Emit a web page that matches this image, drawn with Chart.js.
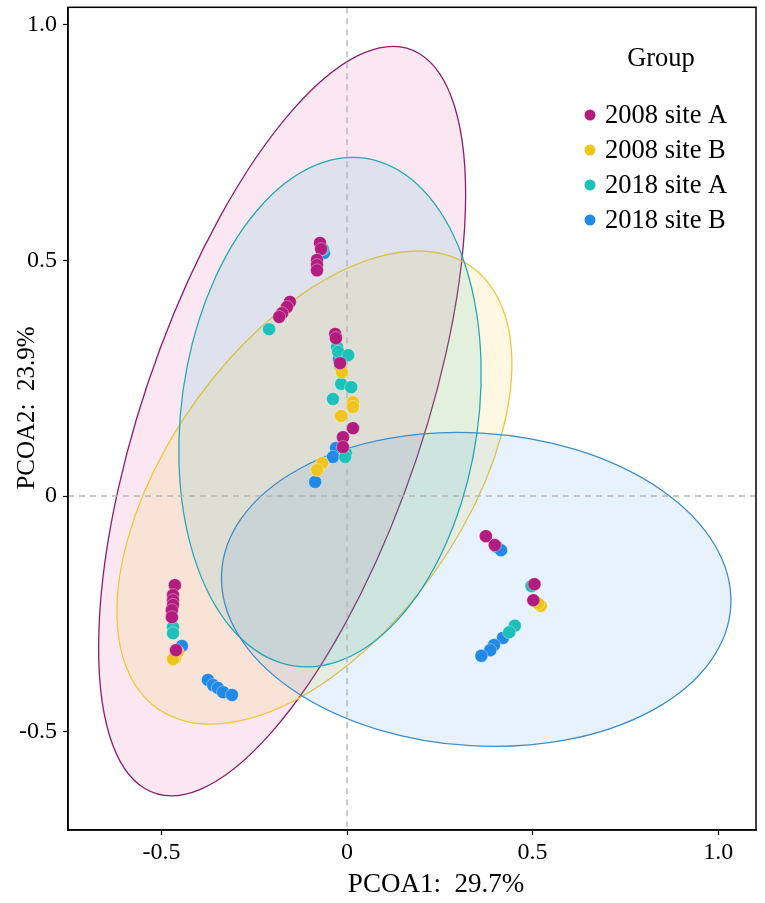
<!DOCTYPE html>
<html>
<head>
<meta charset="utf-8">
<script src="https://cdn.jsdelivr.net/npm/chart.js@4/dist/chart.umd.min.js"></script>
<style>
  html, body { margin: 0; padding: 0; background: #fff; }
  #wrap { width: 765px; height: 903px; }
</style>
</head>
<body>
<div id="wrap"><canvas id="pcoa"></canvas></div>
<script>
// groups and colours
const groups = ["2008 site A", "2008 site B", "2018 site A", "2018 site B"];
const pointColors = ["#B21C7E", "#EFC51C", "#1FBFBA", "#2389E6"];
const lineColors = ["#8B1E6E", "#EEC73A", "#25A9B6", "#3D8DCB"];
const fillColors = ["rgba(215,60,150,0.12)", "rgba(245,200,20,0.12)", "rgba(30,185,200,0.12)", "rgba(40,140,230,0.11)"];

// sample scores (PCOA1, PCOA2)
const siteA2008X = [-0.073, -0.070, -0.081, -0.081, -0.081, -0.154, -0.162, -0.175, -0.183, -0.032, -0.030, -0.019, 0.016, -0.011, -0.011, -0.464, -0.469, -0.469, -0.469, -0.472, -0.472, -0.461, 0.374, 0.398, 0.505, 0.502];
const siteA2008Y = [0.537, 0.524, 0.501, 0.490, 0.479, 0.412, 0.401, 0.388, 0.380, 0.344, 0.335, 0.282, 0.144, 0.125, 0.104, -0.189, -0.210, -0.221, -0.231, -0.242, -0.257, -0.327, -0.085, -0.104, -0.187, -0.221];
const siteB2008X = [-0.167, -0.016, -0.014, 0.016, 0.016, -0.016, -0.067, -0.081, -0.456, -0.464, -0.469, 0.522, 0.515];
const siteB2008Y = [0.397, 0.272, 0.263, 0.199, 0.189, 0.170, 0.070, 0.055, -0.331, -0.344, -0.346, -0.233, -0.228];
const siteA2018X = [-0.065, -0.210, -0.027, -0.024, 0.003, -0.019, -0.016, 0.011, -0.038, -0.003, -0.005, -0.469, -0.469, 0.497, 0.452, 0.437];
const siteA2018Y = [0.524, 0.354, 0.316, 0.306, 0.299, 0.274, 0.238, 0.231, 0.206, 0.091, 0.083, -0.278, -0.291, -0.191, -0.275, -0.289];
const siteB2018X = [-0.062, -0.022, -0.030, -0.038, -0.086, -0.445, -0.375, -0.361, -0.348, -0.334, -0.310, 0.404, 0.415, 0.420, 0.396, 0.386, 0.362];
const siteB2018Y = [0.516, 0.291, 0.102, 0.083, 0.030, -0.318, -0.390, -0.401, -0.407, -0.416, -0.422, -0.108, -0.115, -0.301, -0.316, -0.327, -0.339];

// confidence ellipses in data units (centre, semi axes, rotation in degrees)
const ellipseCx = [-0.175, -0.088, -0.046, 0.348];
const ellipseCy = [0.159, 0.018, 0.178, -0.198];
const ellipseA = [0.863, 0.639, 0.548, 0.687];
const ellipseB = [0.363, 0.356, 0.397, 0.332];
const ellipseAngle = [64.6, 41.8, 76.0, -2.6];

// axes
const xTicks = [-0.5, 0, 0.5, 1.0];
const xTickLabels = ["-0.5", "0", "0.5", "1.0"];
const yTicks = [-0.5, 0, 0.5, 1.0];
const yTickLabels = ["-0.5", "0", "0.5", "1.0"];
const xTitle = "PCOA1:  29.7%";
const yTitle = "PCOA2:  23.9%";
const legendTitle = "Group";

const FONT = "'Liberation Serif', 'Times New Roman', serif";

function toPoints(xs, ys) {
  return xs.map((x, i) => ({ x: x, y: ys[i] }));
}
const allX = [siteA2008X, siteB2008X, siteA2018X, siteB2018X];
const allY = [siteA2008Y, siteB2008Y, siteA2018Y, siteB2018Y];

//! ellipses + zero lines under the points
const ellipsePlugin = {
  id: "ellipses",
  beforeDatasetsDraw(chart) {
    const ctx = chart.ctx;
    const xs = chart.scales.x, ys = chart.scales.y;
    const area = chart.chartArea;
    const kx = xs.getPixelForValue(1) - xs.getPixelForValue(0);
    const ky = ys.getPixelForValue(0) - ys.getPixelForValue(1);
    ctx.save();
    ctx.beginPath();
    ctx.rect(area.left, area.top, area.right - area.left, area.bottom - area.top);
    ctx.clip();
    for (let i = 0; i < groups.length; i++) {
      ctx.save();
      ctx.translate(xs.getPixelForValue(ellipseCx[i]), ys.getPixelForValue(ellipseCy[i]));
      ctx.scale(kx, -ky);
      ctx.beginPath();
      ctx.ellipse(0, 0, ellipseA[i], ellipseB[i], ellipseAngle[i] * Math.PI / 180, 0, Math.PI * 2);
      ctx.restore();
      ctx.fillStyle = fillColors[i];
      ctx.fill();
      ctx.strokeStyle = lineColors[i];
      ctx.lineWidth = 1.3;
      ctx.stroke();
    }
    // dashed zero lines
    ctx.setLineDash([6, 5]);
    ctx.strokeStyle = "#b5b5b5";
    ctx.lineWidth = 1.4;
    const x0 = xs.getPixelForValue(0), y0 = ys.getPixelForValue(0);
    ctx.beginPath();
    ctx.moveTo(x0, area.top); ctx.lineTo(x0, area.bottom);
    ctx.moveTo(area.left, y0); ctx.lineTo(area.right, y0);
    ctx.stroke();
    ctx.restore();
  },
  afterDraw(chart) {
    const ctx = chart.ctx;
    const area = chart.chartArea;
    ctx.save();
    // panel box
    ctx.strokeStyle = "#000";
    ctx.lineWidth = 1.5;
    ctx.strokeRect(area.left, area.top, area.right - area.left, area.bottom - area.top);
    // axis titles
    ctx.fillStyle = "#000";
    ctx.textAlign = "center";
    ctx.textBaseline = "middle";
    ctx.font = "27px " + FONT;
    ctx.fillText(xTitle, 436, 885);
    ctx.font = "25px " + FONT;
    ctx.save();
    ctx.translate(27, 408);
    ctx.rotate(-Math.PI / 2);
    ctx.fillText(yTitle, 0, 0);
    ctx.restore();
    // legend
    ctx.font = "26.5px " + FONT;
    ctx.textBaseline = "alphabetic";
    ctx.fillText(legendTitle, 661, 66);
    ctx.textAlign = "left";
    chart.data.datasets.forEach((ds, i) => {
      const yb = 123 + i * 35;
      ctx.beginPath();
      ctx.arc(590, yb - 8, 5.5, 0, Math.PI * 2);
      ctx.fillStyle = ds.backgroundColor;
      ctx.fill();
      ctx.fillStyle = "#000";
      ctx.fillText(ds.label, 605, yb);
    });
    ctx.restore();
  }
};

new Chart(document.getElementById("pcoa"), {
  type: "scatter",
  data: {
    datasets: groups.map((g, i) => ({
      label: g,
      data: toPoints(allX[i], allY[i]),
      backgroundColor: pointColors[i],
      borderColor: "rgba(255,255,255,0.45)",
      borderWidth: 0.8,
      pointRadius: 6.5,
      pointHoverRadius: 6.5
    }))
  },
  options: {
    responsive: true,
    maintainAspectRatio: false,
    animation: false,
    layout: { padding: { top: 7, right: 9, left: 0, bottom: 0 } },
    plugins: { legend: { display: false }, tooltip: { enabled: false } },
    scales: {
      x: {
        type: "linear",
        min: -0.752,
        max: 1.102,
        afterBuildTicks: (s) => { s.ticks = xTicks.map((v) => ({ value: v })); },
        afterFit: (s) => { s.height = 73; s.paddingLeft = 0; s.paddingRight = 0; },
        ticks: {
          color: "#000",
          font: { family: FONT, size: 24 },
          padding: 3,
          maxRotation: 0,
          callback: (v) => xTickLabels[xTicks.indexOf(v)]
        },
        grid: { drawOnChartArea: false, drawTicks: true, tickLength: 5, color: "#000", tickWidth: 1.2 },
        border: { display: true, color: "#000", width: 1.5 }
      },
      y: {
        type: "linear",
        min: -0.7085,
        max: 1.037,
        afterBuildTicks: (s) => { s.ticks = yTicks.map((v) => ({ value: v })); },
        afterFit: (s) => { s.width = 68; s.paddingTop = 0; s.paddingBottom = 0; },
        ticks: {
          color: "#000",
          font: { family: FONT, size: 24 },
          padding: 6,
          callback: (v) => yTickLabels[yTicks.indexOf(v)]
        },
        grid: { drawOnChartArea: false, drawTicks: true, tickLength: 5, color: "#000", tickWidth: 1.2 },
        border: { display: true, color: "#000", width: 1.5 }
      }
    }
  },
  plugins: [ellipsePlugin]
});
</script>
</body>
</html>
